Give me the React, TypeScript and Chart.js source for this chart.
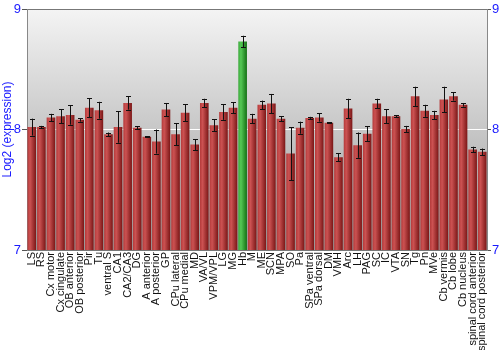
import React, { useEffect, useRef } from "react";
import { Chart, registerables } from "chart.js";

Chart.register(...registerables);

const categories = [
  "LS", "RS", "Cx motor", "Cx cingulate", "OB anterior", "OB posterior", "Pir", "Tu",
  "ventral S", "CA1", "CA2/CA3", "DG", "A anterior", "A posterior", "GP", "CPu lateral",
  "CPu medial", "MD", "VA/VL", "VPM/VPL", "LG", "MG", "Hb", "M", "ME", "SCN", "MPA", "SO",
  "Pa", "SPa ventral", "SPa dorsal", "DM", "VMH", "Arc", "LH", "PAG", "SC", "IC", "VTA",
  "SN", "Tg", "Pn", "MVe", "Cb vermis", "Cb lobe", "Cb nucleus", "spinal cord anterior",
  "spinal cord posterior",
];

const values = [
  8.02, 8.02, 8.10, 8.11, 8.12, 8.08, 8.18, 8.16,
  7.96, 8.02, 8.22, 8.015, 7.94, 7.90, 8.165, 7.96,
  8.14, 7.875, 8.22, 8.035, 8.145, 8.18, 8.73, 8.09, 8.205, 8.215, 8.09, 7.80,
  8.015, 8.095, 8.10, 8.055, 7.77, 8.175, 7.87, 7.965, 8.215, 8.11, 8.11,
  8.005, 8.275, 8.155, 8.12, 8.25, 8.275, 8.205, 7.835,
  7.815,
];

const errors = [
  0.07, 0.01, 0.03, 0.06, 0.08, 0.015, 0.08, 0.07,
  0.015, 0.13, 0.055, 0.012, 0.005, 0.10, 0.055, 0.09,
  0.07, 0.045, 0.035, 0.048, 0.065, 0.045, 0.048, 0.04, 0.035, 0.08, 0.02, 0.22,
  0.05, 0.01, 0.035, 0.005, 0.035, 0.08, 0.105, 0.06, 0.04, 0.06, 0.01,
  0.025, 0.08, 0.05, 0.035, 0.105, 0.035, 0.015, 0.022,
  0.027,
];

const highlighted = "Hb";
const yTicks = [7, 8, 9];

export default function App() {
  const ref = useRef<HTMLCanvasElement>(null);

  useEffect(() => {
    document.body.style.margin = "0";
    const canvas = ref.current!;
    const catPct = 1;
    const barPct = 0.9;

    const barGradient = (c: any) => {
      const chart = c.chart;
      const xs = chart.scales?.x;
      const isHi = categories[c.dataIndex] === highlighted;
      if (!xs || !chart.chartArea || c.dataIndex === undefined) return isHi ? "#2f9f2f" : "#a83232";
      const cx = xs.getPixelForValue(c.dataIndex);
      const w = (xs.width / categories.length) * catPct * barPct;
      const g = chart.ctx.createLinearGradient(cx - w / 2, 0, cx + w / 2, 0);
      if (isHi) {
        g.addColorStop(0, "#3aa83a");
        g.addColorStop(0.3, "#55c855");
        g.addColorStop(1, "#147014");
      } else {
        g.addColorStop(0, "#b43a3a");
        g.addColorStop(0.3, "#cc5252");
        g.addColorStop(1, "#7a1616");
      }
      return g;
    };

    const bgPlugin = {
      id: "bgGrad",
      beforeDraw(chart: any) {
        const { ctx, chartArea: a } = chart;
        const g = ctx.createLinearGradient(0, a.top, 0, a.bottom);
        g.addColorStop(0, "#f4f4f4");
        g.addColorStop(1, "#9a9a9a");
        ctx.save();
        ctx.fillStyle = g;
        ctx.fillRect(a.left, a.top, a.right - a.left, a.bottom - a.top);
        ctx.restore();
      },
    };

    const errPlugin = {
      id: "errBars",
      afterDatasetsDraw(chart: any) {
        const { ctx } = chart;
        const xs = chart.scales.x;
        const ys = chart.scales.y;
        ctx.save();
        ctx.strokeStyle = "#111";
        ctx.lineWidth = 1;
        values.forEach((v, i) => {
          const x = Math.round(xs.getPixelForValue(i)) + 0.5;
          const t = ys.getPixelForValue(v + errors[i]);
          const b = ys.getPixelForValue(v - errors[i]);
          ctx.beginPath();
          ctx.moveTo(x, t);
          ctx.lineTo(x, b);
          ctx.moveTo(x - 2.5, Math.round(t) + 0.5);
          ctx.lineTo(x + 2.5, Math.round(t) + 0.5);
          ctx.moveTo(x - 2.5, Math.round(b) + 0.5);
          ctx.lineTo(x + 2.5, Math.round(b) + 0.5);
          ctx.stroke();
        });
        ctx.restore();
      },
    };

    const chart = new Chart(canvas, {
      type: "bar",
      data: {
        labels: categories,
        datasets: [
          {
            data: values,
            backgroundColor: barGradient,
            borderWidth: 0,
            categoryPercentage: catPct,
            barPercentage: barPct,
          },
        ],
      },
      options: {
        animation: false,
        responsive: false,
        maintainAspectRatio: false,
        layout: { padding: { top: 9, left: 0, right: 0, bottom: 0 } },
        plugins: { legend: { display: false }, tooltip: { enabled: false } },
        scales: {
          x: {
            grid: { display: false, drawTicks: false },
            border: { display: false },
            ticks: {
              autoSkip: false,
              maxRotation: 90,
              minRotation: 90,
              color: "#111",
              padding: 2,
              font: { family: "Liberation Sans", size: 11 },
            },
            afterFit(s: any) {
              s.height = 100;
            },
          },
          y: {
            position: "left",
            min: 7,
            max: 9,
            afterBuildTicks(s: any) {
              s.ticks = yTicks.map((v) => ({ value: v }));
            },
            grid: {
              color: (c: any) => (c.tick && c.tick.value === 8 ? "#ffffff" : "#777777"),
              tickColor: "#555",
              tickLength: 5,
              lineWidth: 1,
            },
            border: { display: true, color: "#888" },
            ticks: {
              color: "#1a1aff",
              padding: 1,
              font: { family: "Liberation Sans", size: 13 },
            },
            title: {
              display: true,
              text: "Log2 (expression)",
              color: "#1a1aff",
              padding: 0,
              font: { family: "Liberation Sans", size: 12 },
            },
            afterFit(s: any) {
              s.width = 27;
            },
          },
          y2: {
            position: "right",
            min: 7,
            max: 9,
            afterBuildTicks(s: any) {
              s.ticks = yTicks.map((v) => ({ value: v }));
            },
            grid: { drawOnChartArea: false, tickColor: "#555", tickLength: 4 },
            border: { display: true, color: "#888" },
            ticks: {
              color: "#1a1aff",
              padding: 1,
              font: { family: "Liberation Sans", size: 13 },
            },
            afterFit(s: any) {
              s.width = 13;
            },
          },
        },
      },
      plugins: [bgPlugin, errPlugin],
    } as any);

    return () => chart.destroy();
  }, []);

  return <canvas ref={ref} width={500} height={350} style={{ display: "block" }} />;
}
